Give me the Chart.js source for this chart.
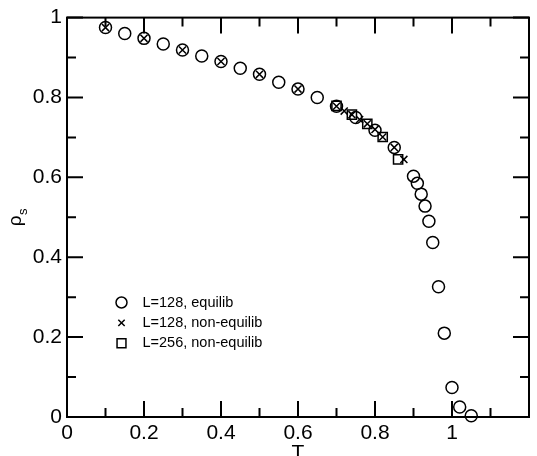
<!DOCTYPE html>
<html>
<head>
<meta charset="utf-8">
<script src="https://cdn.jsdelivr.net/npm/chart.js@4/dist/chart.umd.min.js"></script>
<style>
  html, body { margin: 0; padding: 0; background: #fff; }
  #wrap { width: 537px; height: 456px; }
</style>
</head>
<body>
<div id="wrap"><canvas id="c" width="537" height="456"></canvas></div>
<script>
// ---- data ----
const seriesLabels = ['L=128, equilib', 'L=128, non-equilib', 'L=256, non-equilib'];

const equilibT   = [0.1, 0.15, 0.2, 0.25, 0.3, 0.35, 0.4, 0.45, 0.5, 0.55, 0.6, 0.65, 0.7, 0.75, 0.8, 0.85,
                    0.9, 0.91, 0.92, 0.93, 0.94, 0.95, 0.965, 0.98, 1.0, 1.02, 1.05];
const equilibRho = [0.975, 0.960, 0.948, 0.934, 0.919, 0.904, 0.890, 0.873, 0.858, 0.838, 0.821, 0.800, 0.778, 0.750, 0.718, 0.675,
                    0.603, 0.585, 0.558, 0.528, 0.490, 0.437, 0.326, 0.210, 0.074, 0.025, 0.003];

const neq128T   = [0.1, 0.2, 0.3, 0.4, 0.5, 0.6, 0.7, 0.72, 0.74, 0.76, 0.78, 0.8, 0.82, 0.85, 0.875];
const neq128Rho = [0.975, 0.948, 0.919, 0.890, 0.858, 0.821, 0.778, 0.766, 0.757, 0.745, 0.734, 0.720, 0.701, 0.675, 0.645];

const neq256T   = [0.7, 0.74, 0.78, 0.82, 0.86];
const neq256Rho = [0.779, 0.757, 0.734, 0.701, 0.645];

const xTickValues = [0, 0.1, 0.2, 0.3, 0.4, 0.5, 0.6, 0.7, 0.8, 0.9, 1.0, 1.1, 1.2];
const yTickValues = [0, 0.1, 0.2, 0.3, 0.4, 0.5, 0.6, 0.7, 0.8, 0.9, 1.0];

// ---- helpers ----
const toPoints = (xs, ys) => xs.map((x, i) => ({ x: x, y: ys[i] }));
const fmt = v => String(Number(v.toFixed(1)));
const FONT = '"Liberation Sans", Arial, sans-serif';

const markerStyles = [
  { pointStyle: 'circle',   radius: 6,   borderWidth: 1.5 },
  { pointStyle: 'crossRot', radius: 5,   borderWidth: 1.5 },
  { pointStyle: 'rect',     radius: 6.5, borderWidth: 1.5 }
];

const framePlugin = {
  id: 'frame',
  afterDatasetsDraw(chart) {
    const { ctx, chartArea: a, scales } = chart;
    const xs = scales.x, ys = scales.y;
    ctx.save();
    ctx.strokeStyle = '#000';
    ctx.lineWidth = 2;
    ctx.lineCap = 'butt';
    ctx.strokeRect(a.left, a.top, a.right - a.left, a.bottom - a.top);
    const MAJ = 16, MIN = 9;
    ctx.beginPath();
    xTickValues.forEach((v, i) => {
      const px = xs.getPixelForValue(v);
      const len = (i % 2 === 0) ? MAJ : MIN;
      ctx.moveTo(px, a.bottom); ctx.lineTo(px, a.bottom - len);
      ctx.moveTo(px, a.top);    ctx.lineTo(px, a.top + len);
    });
    yTickValues.forEach((v, i) => {
      const py = ys.getPixelForValue(v);
      const len = (i % 2 === 0) ? MAJ : MIN;
      ctx.moveTo(a.left, py);  ctx.lineTo(a.left + len, py);
      ctx.moveTo(a.right, py); ctx.lineTo(a.right - len, py);
    });
    ctx.stroke();

    // y axis title: rho with subscript s
    ctx.fillStyle = '#000';
    ctx.translate(21, (a.top + a.bottom) / 2 + 9);
    ctx.rotate(-Math.PI / 2);
    ctx.textBaseline = 'alphabetic';
    ctx.textAlign = 'left';
    ctx.font = '19px ' + FONT;
    ctx.fillText('ρ', 0, 0);
    const w = ctx.measureText('ρ').width;
    ctx.font = '13px ' + FONT;
    ctx.fillText('s', w + 0.5, 6);
    ctx.restore();

    // legend
    ctx.save();
    const lx = 121.5, ly0 = 302.5, dy = 20.4, tx = 142.5;
    chart.data.datasets.forEach((ds, i) => {
      const y = ly0 + i * dy;
      ctx.strokeStyle = '#000';
      ctx.fillStyle = 'rgba(0,0,0,0)';
      ctx.lineWidth = 1.5;
      const r = [5.5, 4.5, 6.3][i];
      Chart.helpers.drawPoint(ctx, { pointStyle: markerStyles[i].pointStyle, radius: r, rotation: 0, borderWidth: 1.5 }, lx, y);
      ctx.fillStyle = '#000';
      ctx.font = '14.5px ' + FONT;
      ctx.textBaseline = 'middle';
      ctx.textAlign = 'left';
      ctx.fillText(ds.label, tx, y);
    });
    ctx.restore();
  }
};

const mkDataset = (label, pts, i) => ({
  label: label,
  data: pts,
  showLine: false,
  pointStyle: markerStyles[i].pointStyle,
  pointRadius: markerStyles[i].radius,
  pointHoverRadius: markerStyles[i].radius,
  pointBorderWidth: markerStyles[i].borderWidth,
  pointBorderColor: '#000',
  pointBackgroundColor: 'rgba(0,0,0,0)',
  borderColor: '#000',
  backgroundColor: 'rgba(0,0,0,0)',
  clip: false
});

new Chart(document.getElementById('c'), {
  type: 'scatter',
  data: {
    datasets: [
      mkDataset(seriesLabels[0], toPoints(equilibT, equilibRho), 0),
      mkDataset(seriesLabels[1], toPoints(neq128T, neq128Rho), 1),
      mkDataset(seriesLabels[2], toPoints(neq256T, neq256Rho), 2)
    ]
  },
  options: {
    responsive: false,
    animation: false,
    devicePixelRatio: 1,
    layout: { padding: { top: 14, right: 1, left: 0, bottom: 0 } },
    plugins: { legend: { display: false }, tooltip: { enabled: false } },
    scales: {
      x: {
        type: 'linear', min: 0, max: 1.2,
        grid: { display: false, drawTicks: false },
        border: { display: false },
        ticks: {
          stepSize: 0.2, padding: 4, color: '#000',
          font: { family: FONT, size: 21 },
          maxRotation: 0, autoSkip: false,
          callback: v => (v > 1.15 ? '' : fmt(v))
        },
        title: {
          display: true, text: 'T', color: '#000',
          font: { family: FONT, size: 21 },
          padding: { top: 0, bottom: -10 }
        },
        afterFit: s => { s.height = 39; }
      },
      y: {
        type: 'linear', min: 0, max: 1,
        grid: { display: false, drawTicks: false },
        border: { display: false },
        ticks: {
          stepSize: 0.2, padding: 5, color: '#000',
          font: { family: FONT, size: 21 },
          callback: v => fmt(v)
        },
        afterFit: s => { s.width = 67; }
      }
    }
  },
  plugins: [framePlugin]
});
</script>
</body>
</html>
